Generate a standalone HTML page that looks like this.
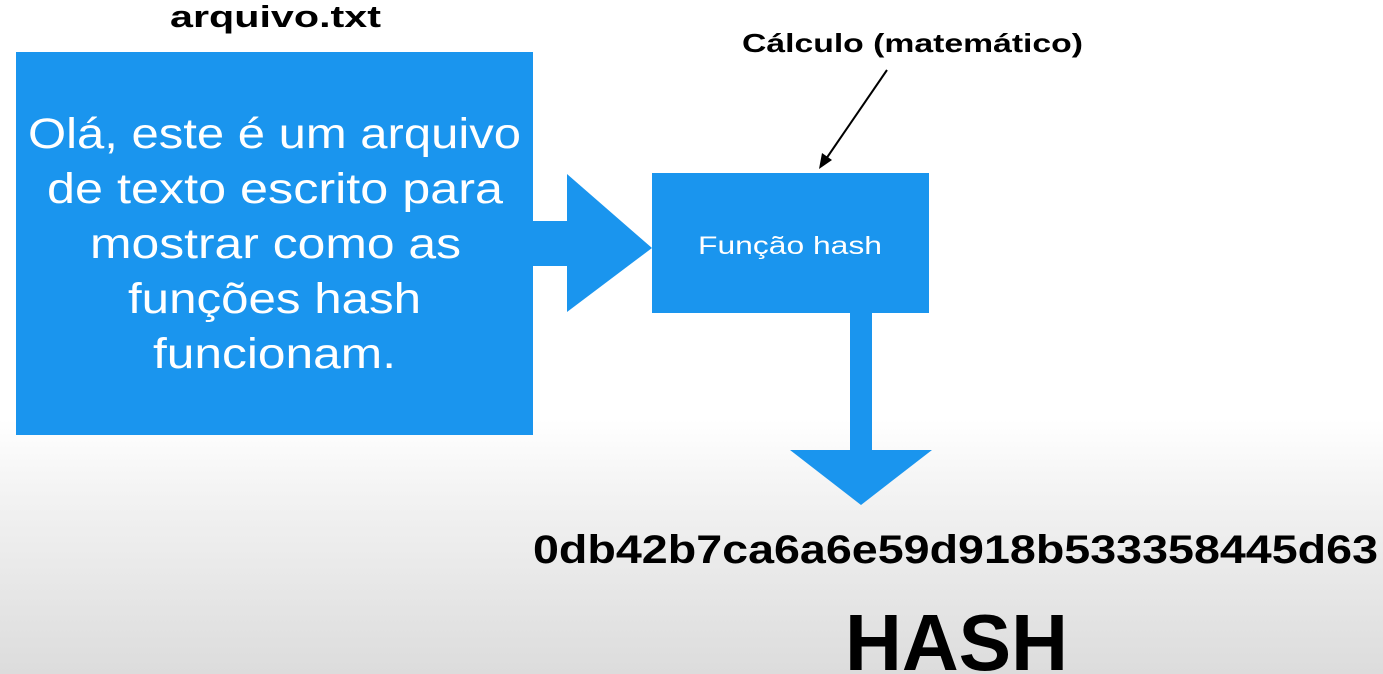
<!DOCTYPE html>
<html><head><meta charset="utf-8"><style>
html,body{margin:0;padding:0}
body{width:1383px;height:674px;overflow:hidden;position:relative;font-family:"Liberation Sans",Arial,sans-serif;
background:linear-gradient(to bottom,#fff 0,#fff 420px,#f2f2f2 500px,#dcdcdc 674px);}
</style></head><body>
<svg width="1383" height="674" style="position:absolute;left:0;top:0" font-family="Liberation Sans,Arial,sans-serif">
<rect x="16" y="52" width="517" height="383" fill="#1a95ee"/>
<rect x="530" y="221" width="40" height="45" fill="#1a95ee"/>
<polygon points="567,174 652,248 567,312" fill="#1a95ee"/>
<rect x="652" y="173" width="277" height="140" fill="#1a95ee"/>
<rect x="850" y="311" width="22" height="142" fill="#1a95ee"/>
<polygon points="790,450 932,450 861,505" fill="#1a95ee"/>
<line x1="887" y1="70" x2="826" y2="159" stroke="#000" stroke-width="2"/>
<polygon points="819,169 822,153 832,160" fill="#000"/>
<g fill="#fff" font-size="43">
<text x="28" y="148" textLength="493" lengthAdjust="spacingAndGlyphs">Olá, este é um arquivo</text>
<text x="47" y="203" textLength="456" lengthAdjust="spacingAndGlyphs">de texto escrito para</text>
<text x="90" y="258" textLength="371" lengthAdjust="spacingAndGlyphs">mostrar como as</text>
<text x="128" y="313" textLength="293" lengthAdjust="spacingAndGlyphs">funções hash</text>
<text x="153" y="368" textLength="243" lengthAdjust="spacingAndGlyphs">funcionam.</text>
</g>
<text x="698" y="254" fill="#fff" font-size="25" textLength="184" lengthAdjust="spacingAndGlyphs">Função hash</text>
<text x="170" y="27" fill="#000" font-size="31" font-weight="bold" textLength="211" lengthAdjust="spacingAndGlyphs">arquivo.txt</text>
<text x="742" y="52" fill="#000" font-size="26" font-weight="bold" textLength="341" lengthAdjust="spacingAndGlyphs">Cálculo (matemático)</text>
<text x="533" y="563" fill="#000" font-size="40" font-weight="bold" textLength="845" lengthAdjust="spacingAndGlyphs">0db42b7ca6a6e59d918b533358445d63</text>
<text x="845" y="670" fill="#000" font-size="80" font-weight="bold" textLength="223" lengthAdjust="spacingAndGlyphs">HASH</text>
</svg>
</body></html>
